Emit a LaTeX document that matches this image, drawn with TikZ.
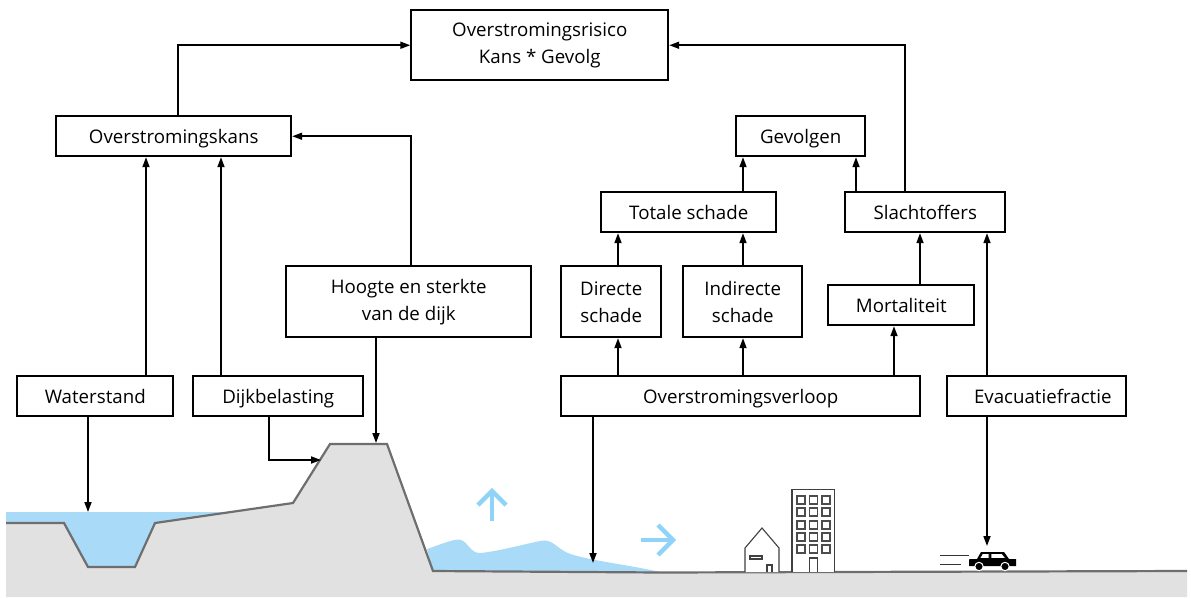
\documentclass[tikz,border=0pt]{standalone}
\usepackage{fontspec}
\setmainfont{Open Sans}
\usetikzlibrary{arrows.meta}
\definecolor{water}{HTML}{A9DBF8}
\definecolor{bluearrow}{HTML}{8FD3F7}
\definecolor{ground}{HTML}{E1E1E1}
\definecolor{groundline}{HTML}{6E6E6E}
\tikzset{
  x=1pt,y=-1pt,
  box/.style={draw=black,line width=1.9pt,fill=white,inner sep=0pt,align=center,font=\fontsize{18.7}{27}\selectfont,anchor=north west},
  conn/.style={draw=black,line width=1.7pt,-{Triangle[length=10pt,width=7pt]}},
  gline/.style={draw=groundline,line width=2.2pt,line join=miter},
  bldg/.style={draw=black!75,line width=1.1pt,fill=white},
  flow/.style={draw=bluearrow,line width=4.4pt}
}
\newcommand{\bx}[6]{\node[box,minimum width=#4 pt-#2 pt,minimum height=#5 pt-#3 pt] (#1) at (#2-0.7,#3-0.7) {#6};}
\newcommand{\lw}[1]{\raisebox{-7.4pt}[0pt][0pt]{#1}}
\begin{document}
\begin{tikzpicture}
\useasboundingbox (0,0) rectangle (1191,597);
% ground and water
\fill[water] (6,512) -- (226,512) -- (155,523) -- (135,567) -- (88,567) -- (64,523) -- (6,523) -- cycle;
\fill[water] (427,549) .. controls (442,544) and (455,538) .. (461,540)
  .. controls (468,542) and (470,553) .. (480,553)
  .. controls (495,552) and (525,544) .. (540,541)
  .. controls (552,538) and (556,548) .. (568,553)
  .. controls (585,560) and (630,565) .. (660,572) -- (433,571) -- cycle;
\fill[ground] (6,597) -- (6,523) -- (64,523) -- (88,567) -- (135,567) -- (155,523) -- (293,503) -- (330,444) -- (387,444) -- (433,571) -- (660,572.5) -- (1187,571) -- (1187,597) -- cycle;
\draw[gline] (6,523) -- (64,523) -- (88,567) -- (135,567) -- (155,523) -- (293,503) -- (330,444) -- (387,444) -- (433,571) -- (660,572.5) -- (1187,571);
% flow arrows
\draw[flow] (492,521) -- (492,491);
\draw[flow] (478,505) -- (492,491) -- (506,505);
\draw[flow] (641,540) -- (672,540);
\draw[flow] (658,525) -- (673,540) -- (658,555);
% house
\draw[bldg] (745,572) -- (745,548) -- (762,528) -- (779,548) -- (779,572);
\draw[bldg] (750,556) rectangle (762,559);
\draw[bldg] (767,572) -- (767,565) -- (772,565) -- (772,572);
% tower
\draw[bldg] (792,572) -- (792,489.5) -- (834.5,489.5) -- (834.5,572);
\foreach \cx in {801,813.5,826}
  \foreach \cy in {500,512,525,537,549}
    \draw[black!70,line width=1.1pt] (\cx-4,\cy-4) rectangle (\cx+4,\cy+4);
\draw[bldg] (809.5,572) -- (809.5,558) -- (817.5,558) -- (817.5,572);
% car
\fill[black] (969,566) -- (969,560) .. controls (969,559) and (970,559) .. (971,559) -- (977,559) -- (981,552) -- (1004,552) -- (1009,559) -- (1016,559) -- (1016,566) -- cycle;
\draw[black,line width=0.8pt,fill=white] (982.5,553.5) -- (989,553.5) -- (989,558.5) -- (979.5,558.5) -- cycle;
\draw[black,line width=0.8pt,fill=white] (991,553.5) -- (1002,553.5) -- (1006,558.5) -- (991,558.5) -- cycle;
\foreach \cx in {979,1005} \fill[black,draw=white,line width=1pt] (\cx,566.5) circle (4.2);
\draw[black!80,line width=1pt] (940,555.5) -- (969,555.5) (940,564) -- (961,564);
% boxes
\bx{risico}{411}{10}{668}{80}{Overstromingsrisico\\Kans * Gevolg}
\bx{kans}{56}{116}{291}{156}{\lw{Overstromingskans}}
\bx{gevolgen}{736}{116}{865}{156}{\lw{Gevolgen}}
\bx{totale}{601}{192}{776}{232}{\lw{Totale schade}}
\bx{slacht}{845}{192}{1005}{232}{\lw{Slachtoffers}}
\bx{hoogte}{286}{266}{531}{337}{Hoogte en sterkte\\van de dijk}
\bx{directe}{561}{266}{661}{337}{Directe\\schade}
\bx{indirecte}{683}{266}{802}{337}{Indirecte\\schade}
\bx{mort}{828}{285}{974}{325}{\lw{Mortaliteit}}
\bx{water}{17}{376}{173}{416}{\lw{Waterstand}}
\bx{dijk}{193}{376}{363}{416}{\lw{Dijkbelasting}}
\bx{verloop}{561}{376}{920}{416}{\lw{Overstromingsverloop}}
\bx{evac}{947}{376}{1126}{416}{\hspace*{12pt}\lw{Evacuatiefractie}}
% free ends and routing guides
\coordinate (xA) at (178,0);
\coordinate (xB) at (146,0);
\coordinate (xC) at (221,0);
\coordinate (xD) at (411,0);
\coordinate (xE) at (905,0);
\coordinate (xF) at (743,0);
\coordinate (xG) at (856,0);
\coordinate (xH) at (618,0);
\coordinate (xI) at (894,0);
\coordinate (xJ) at (920,0);
\coordinate (xK) at (987,0);
\coordinate (xL) at (269,0);
\coordinate (waterlevel) at (88,512);
\coordinate (dikeslope) at (321,460);
\coordinate (dikecrest) at (376,443);
\coordinate (floodpoint) at (593,563);
\coordinate (carroof) at (987,546);
% connectors
\draw[conn] (kans.north -| xA) |- (risico.west);
\draw[conn] (hoogte.north -| xD) |- (kans.east);
\draw[conn] (water.north -| xB) -- (kans.south -| xB);
\draw[conn] (dijk.north -| xC) -- (kans.south -| xC);
\draw[conn] (water.south -| waterlevel) -- (waterlevel);
\draw[conn] (dijk.south -| xL) |- (dikeslope);
\draw[conn] (hoogte.south -| dikecrest) -- (dikecrest);
\draw[conn] (slacht.north -| xE) |- (risico.east);
\draw[conn] (totale.north -| xF) -- (gevolgen.south -| xF);
\draw[conn] (slacht.north -| xG) -- (gevolgen.south -| xG);
\draw[conn] (directe.north -| xH) -- (totale.south -| xH);
\draw[conn] (indirecte.north -| xF) -- (totale.south -| xF);
\draw[conn] (verloop.north -| xH) -- (directe.south -| xH);
\draw[conn] (verloop.north -| xF) -- (indirecte.south -| xF);
\draw[conn] (verloop.north -| xI) -- (mort.south -| xI);
\draw[conn] (mort.north -| xJ) -- (slacht.south -| xJ);
\draw[conn] (evac.north -| xK) -- (slacht.south -| xK);
\draw[conn] (evac.south -| carroof) -- (carroof);
\draw[conn] (verloop.south -| floodpoint) -- (floodpoint);
\end{tikzpicture}
\end{document}
